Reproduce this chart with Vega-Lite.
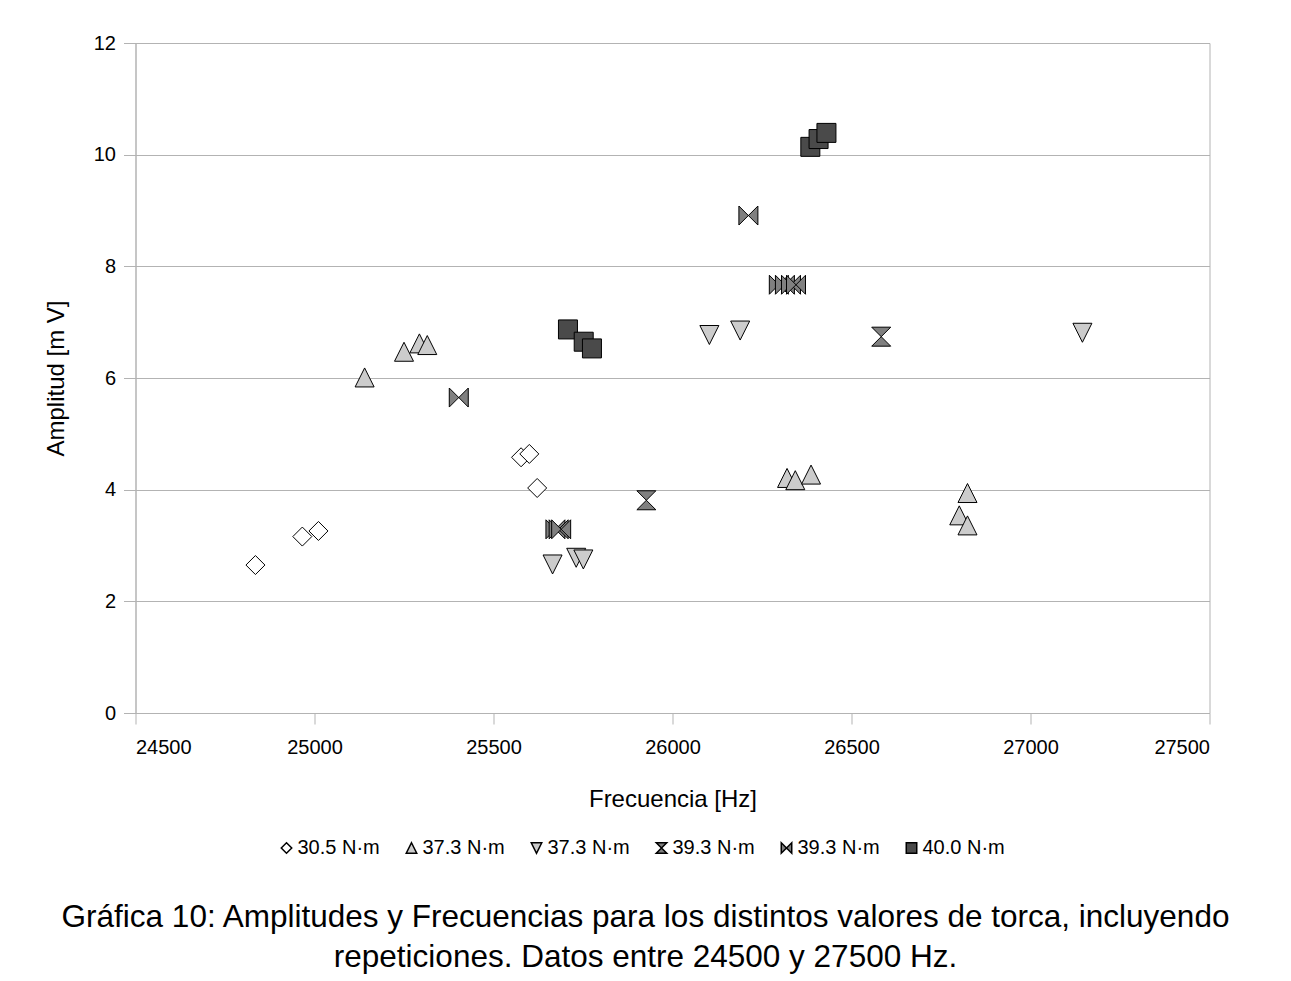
{
  "$schema": "https://vega.github.io/schema/vega-lite/v6.json",
  "width": 1074,
  "height": 670,
  "autosize": {"type": "none"},
  "padding": {"left": 135.5, "top": 43, "right": 81.5, "bottom": 268},
  "background": "white",
  "config": {
    "font": "Liberation Sans",
    "view": {"stroke": "#b3b3b3", "strokeWidth": 1}
  },
  "title": {
    "text": [
      "Gráfica 10: Amplitudes y Frecuencias para los distintos valores de torca, incluyendo",
      "repeticiones. Datos entre 24500 y 27500 Hz."
    ],
    "orient": "bottom",
    "anchor": "middle",
    "frame": "group",
    "offset": 44,
    "dx": -27,
    "font": "Liberation Sans",
    "fontSize": 31.5,
    "fontWeight": "normal",
    "color": "#000000",
    "lineHeight": 40
  },
  "data": {
    "values": [
      {"serie": "30.5 N·m", "frecuencia": 24835, "amplitud": 2.65},
      {"serie": "30.5 N·m", "frecuencia": 24966, "amplitud": 3.16},
      {"serie": "30.5 N·m", "frecuencia": 25011, "amplitud": 3.26},
      {"serie": "30.5 N·m", "frecuencia": 25577, "amplitud": 4.58},
      {"serie": "30.5 N·m", "frecuencia": 25600, "amplitud": 4.64},
      {"serie": "30.5 N·m", "frecuencia": 25622, "amplitud": 4.03},
      {"serie": "37.3 N·m #a", "frecuencia": 25140, "amplitud": 6.01},
      {"serie": "37.3 N·m #a", "frecuencia": 25250, "amplitud": 6.47},
      {"serie": "37.3 N·m #a", "frecuencia": 25293, "amplitud": 6.62},
      {"serie": "37.3 N·m #a", "frecuencia": 25315, "amplitud": 6.59},
      {"serie": "37.3 N·m #a", "frecuencia": 26320, "amplitud": 4.21},
      {"serie": "37.3 N·m #a", "frecuencia": 26343, "amplitud": 4.17},
      {"serie": "37.3 N·m #a", "frecuencia": 26387, "amplitud": 4.27},
      {"serie": "37.3 N·m #a", "frecuencia": 26824, "amplitud": 3.94},
      {"serie": "37.3 N·m #a", "frecuencia": 26801, "amplitud": 3.54},
      {"serie": "37.3 N·m #a", "frecuencia": 26824, "amplitud": 3.36},
      {"serie": "37.3 N·m #b", "frecuencia": 25665, "amplitud": 2.66},
      {"serie": "37.3 N·m #b", "frecuencia": 25731, "amplitud": 2.78},
      {"serie": "37.3 N·m #b", "frecuencia": 25751, "amplitud": 2.75},
      {"serie": "37.3 N·m #b", "frecuencia": 26103, "amplitud": 6.77},
      {"serie": "37.3 N·m #b", "frecuencia": 26189, "amplitud": 6.85},
      {"serie": "37.3 N·m #b", "frecuencia": 27145, "amplitud": 6.81},
      {"serie": "39.3 N·m #a", "frecuencia": 25927, "amplitud": 3.81},
      {"serie": "39.3 N·m #a", "frecuencia": 26583, "amplitud": 6.74},
      {"serie": "39.3 N·m #b", "frecuencia": 25403, "amplitud": 5.65},
      {"serie": "39.3 N·m #b", "frecuencia": 25673, "amplitud": 3.29},
      {"serie": "39.3 N·m #b", "frecuencia": 25682, "amplitud": 3.29},
      {"serie": "39.3 N·m #b", "frecuencia": 25689, "amplitud": 3.29},
      {"serie": "39.3 N·m #b", "frecuencia": 26212, "amplitud": 8.91},
      {"serie": "39.3 N·m #b", "frecuencia": 26297, "amplitud": 7.67},
      {"serie": "39.3 N·m #b", "frecuencia": 26314, "amplitud": 7.67},
      {"serie": "39.3 N·m #b", "frecuencia": 26331, "amplitud": 7.67},
      {"serie": "39.3 N·m #b", "frecuencia": 26345, "amplitud": 7.67},
      {"serie": "40.0 N·m", "frecuencia": 25708, "amplitud": 6.87},
      {"serie": "40.0 N·m", "frecuencia": 25752, "amplitud": 6.65},
      {"serie": "40.0 N·m", "frecuencia": 25775, "amplitud": 6.53},
      {"serie": "40.0 N·m", "frecuencia": 26385, "amplitud": 10.14},
      {"serie": "40.0 N·m", "frecuencia": 26408, "amplitud": 10.28},
      {"serie": "40.0 N·m", "frecuencia": 26430, "amplitud": 10.39}
    ]
  },
  "mark": {
    "type": "point",
    "filled": true,
    "opacity": 1,
    "size": 361,
    "stroke": "#000000",
    "strokeWidth": 1
  },
  "encoding": {
    "x": {
      "field": "frecuencia",
      "type": "quantitative",
      "scale": {"domain": [24500, 27500], "nice": false, "zero": false},
      "axis": {
        "title": "Frecuencia [Hz]",
        "values": [24500, 25000, 25500, 26000, 26500, 27000, 27500],
        "format": "d",
        "grid": false,
        "domainColor": "#b3b3b3",
        "tickColor": "#b3b3b3",
        "tickSize": 11,
        "labelFontSize": 20,
        "labelColor": "#000000",
        "labelPadding": 13,
        "titleFontSize": 24,
        "titleFontWeight": "normal",
        "titleColor": "#000000",
        "titlePadding": 30
      }
    },
    "y": {
      "field": "amplitud",
      "type": "quantitative",
      "scale": {"domain": [0, 12], "nice": false},
      "axis": {
        "title": "Amplitud [m V]",
        "values": [0, 2, 4, 6, 8, 10, 12],
        "grid": true,
        "gridColor": "#b3b3b3",
        "domainColor": "#b3b3b3",
        "tickColor": "#b3b3b3",
        "tickSize": 12,
        "labelFontSize": 20,
        "labelColor": "#000000",
        "labelPadding": 8,
        "titleFontSize": 24,
        "titleFontWeight": "normal",
        "titleColor": "#000000",
        "titlePadding": 25
      }
    },
    "shape": {
      "field": "serie",
      "type": "nominal",
      "scale": {
        "domain": ["30.5 N·m", "37.3 N·m #a", "37.3 N·m #b", "39.3 N·m #a", "39.3 N·m #b", "40.0 N·m"],
        "range": [
          "diamond",
          "M0,-1L1,1L-1,1Z",
          "M-1,-1L1,-1L0,1Z",
          "M-1,-1L1,-1L-1,1L1,1Z",
          "M-1,-1L1,1L1,-1L-1,1Z",
          "square"
        ]
      },
      "legend": {
        "title": null,
        "orient": "none",
        "direction": "horizontal",
        "columns": 6,
        "legendX": 141,
        "legendY": 795,
        "labelExpr": "split(datum.label, ' #')[0]",
        "labelFont": "Liberation Sans",
        "labelFontSize": 20,
        "labelColor": "#000000",
        "labelOffset": 1,
        "symbolSize": 110,
        "symbolOpacity": 1,
        "columnPadding": 21,
        "encode": {
          "symbols": {
            "update": {
              "stroke": {"value": "#000000"},
              "strokeWidth": {"value": 1},
              "opacity": {"value": 1}
            }
          }
        }
      }
    },
    "fill": {
      "field": "serie",
      "type": "nominal",
      "scale": {
        "domain": ["30.5 N·m", "37.3 N·m #a", "37.3 N·m #b", "39.3 N·m #a", "39.3 N·m #b", "40.0 N·m"],
        "range": ["#ffffff", "#cccccc", "#cccccc", "#808080", "#808080", "#4a4a4a"]
      },
      "legend": null
    }
  }
}
